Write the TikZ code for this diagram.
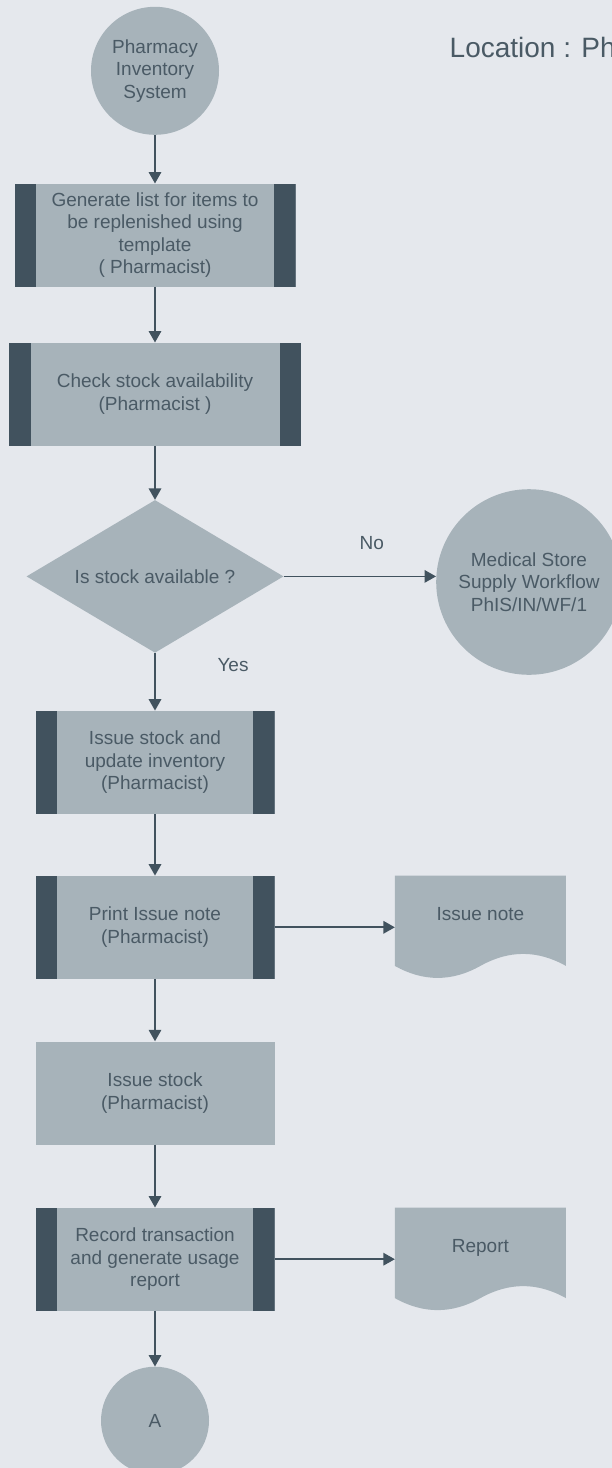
\documentclass[tikz,border=0pt]{standalone}
\usepackage{fontspec}
\setmainfont{Liberation Sans}
\usepackage{xcolor}
\usetikzlibrary{shapes.geometric,arrows.meta,backgrounds}

\definecolor{pagebg}{HTML}{E5E8ED}
\definecolor{shapefill}{HTML}{A7B3BA}
\definecolor{bardark}{HTML}{41525E}
\definecolor{inktext}{HTML}{4A5A65}

\begin{document}
    \begin{tikzpicture}[x=10pt,y=10pt,
        flow/.style={draw=none,fill=shapefill,text=inktext,align=center,font=\fontsize{19}{22.5}\selectfont},
        term/.style={flow,circle,minimum size=#1},
        proc/.style={flow,rectangle,minimum height=103pt,minimum width=#1},
        subproc/.style={proc=#1,path picture={
            \fill[bardark] (path picture bounding box.north west) rectangle ([xshift=21.5pt]path picture bounding box.south west);
            \fill[bardark] (path picture bounding box.north east) rectangle ([xshift=-21.5pt]path picture bounding box.south east);}},
        decision/.style={flow,diamond,shape aspect=1.68,minimum width=257pt,minimum height=152.7pt},
        docbox/.style={flow,fill=none,rectangle,minimum width=170.7pt,minimum height=90pt,text height=13.6pt,text depth=15pt},
        lbl/.style={text=inktext,font=\fontsize{19}{22.5}\selectfont},
        flowline/.style={draw=bardark,line width=1.8pt,-{Triangle[length=11.5pt,width=12.5pt]}}]
        \tikzstyle{every node}+=[inner sep=0pt]
        \begin{scope}[on background layer]
            \fill[pagebg] (0,0) rectangle (61.2,-146.8);
        \end{scope}
        \useasboundingbox (0,0) rectangle (61.2,-146.8);
        % main column
        \node (pis) [term=128pt] at (15.5,-7.08) {Pharmacy\\Inventory\\System};
        \node (loc) [lbl,anchor=base west,font=\fontsize{28}{32}\selectfont] at (44.95,-5.73) {Location : Ph};
        \node (genlist) [subproc=281pt] at (15.5,-23.52) {Generate list for items to\\be replenished using\\template\\( Pharmacist)};
        \node (chkstock) [subproc=292pt] at (15.5,-39.42) {Check stock availability\\(Pharmacist )};
        \node (isavail) [decision] at (15.5,-57.64) {Is stock available ?};
        \node (medstore) [term=185.6pt] at (52.9,-58.2) {Medical Store\\Supply Workflow\\PhIS/IN/WF/1};
        \node (issueupd) [subproc=239pt] at (15.5,-76.23) {Issue stock and\\update inventory\\(Pharmacist)};
        \node (printnote) [subproc=239pt] at (15.5,-92.73) {Print Issue note\\(Pharmacist)};
        \node (issuenote) [docbox] at (48.04,-92.07) {Issue note};
        \node (issuestk) [proc=239pt] at (15.5,-109.3) {Issue stock\\(Pharmacist)};
        \node (record) [subproc=239pt] at (15.5,-125.92) {Record transaction\\and generate usage\\report};
        \node (report) [docbox] at (48.04,-125.29) {Report};
        \node (conA) [term=108pt] at (15.5,-142.07) {A};
        % document shapes
        \begin{scope}[on background layer]
            \foreach \doc in {issuenote,report}
                \fill[shapefill] (\doc.north west) -- (\doc.north east) -- (\doc.south east)
                    .. controls +(-2.85,1.6) and +(2.85,1.6) .. (\doc.south)
                    .. controls +(-2.85,-1.6) and +(2.85,-1.6) .. (\doc.south west) -- cycle;
        \end{scope}
        % connectors
        \draw [flowline] (pis) -- (genlist);
        \draw [flowline] (genlist) -- (chkstock);
        \draw [flowline] (chkstock) -- (isavail);
        \draw [flowline] (isavail.east) -- (isavail.east -| medstore.west);
        \node (nolbl) [lbl] at (37.17,-54.27) {No};
        \draw [flowline] (isavail) -- (issueupd);
        \node (yeslbl) [lbl] at (23.3,-66.5) {Yes};
        \draw [flowline] (issueupd) -- (printnote);
        \draw [flowline] (printnote.east) -- (printnote.east -| issuenote.west);
        \draw [flowline] (printnote) -- (issuestk);
        \draw [flowline] (issuestk) -- (record);
        \draw [flowline] (record.east) -- (record.east -| report.west);
        \draw [flowline] (record) -- (conA);
    \end{tikzpicture}
\end{document}
